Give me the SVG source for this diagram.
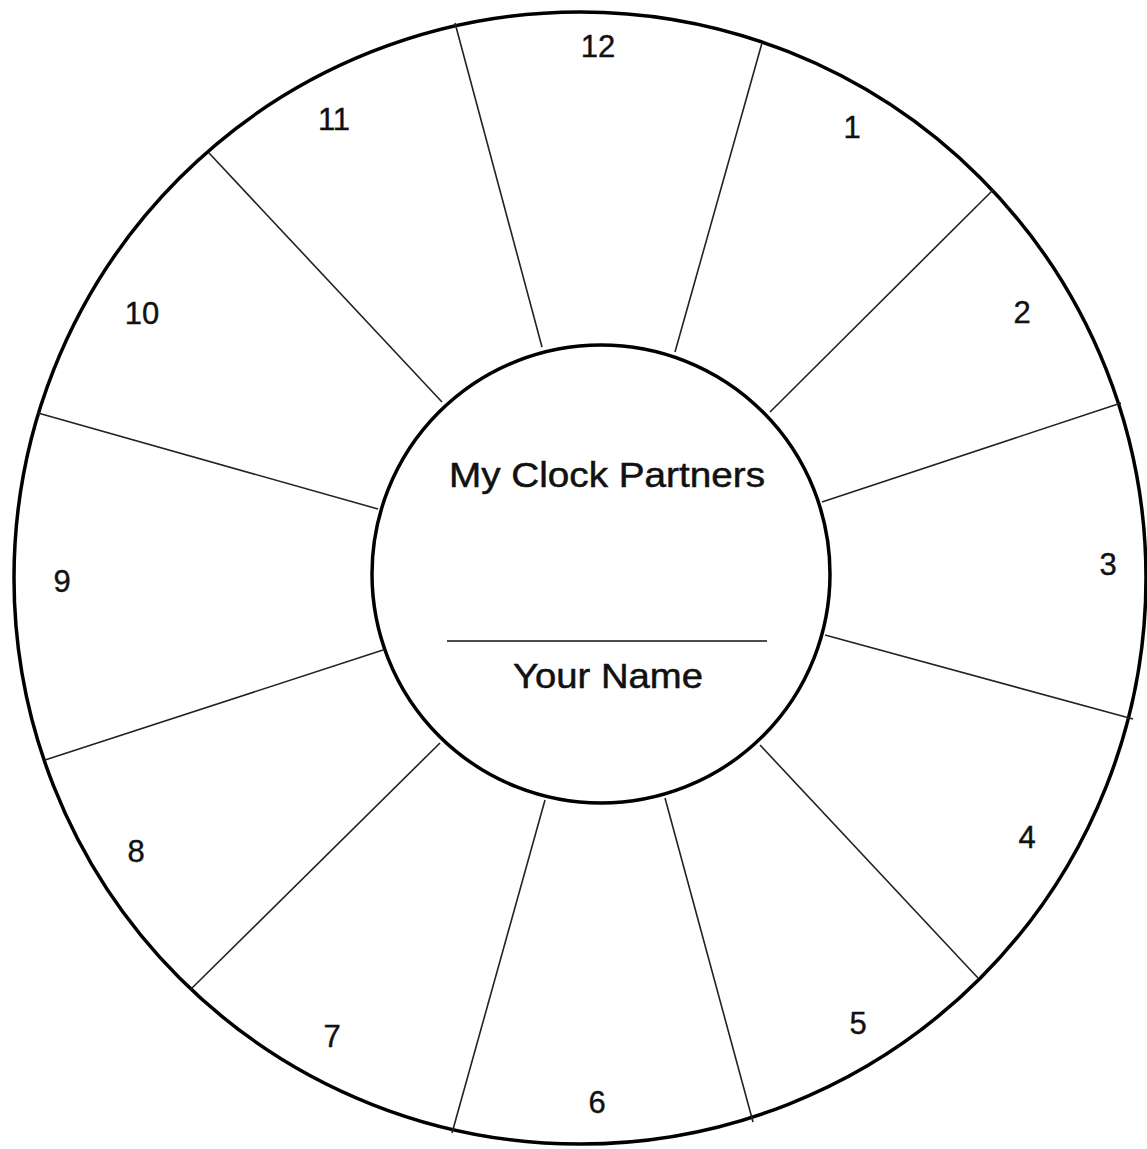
<svg xmlns="http://www.w3.org/2000/svg" width="1147" height="1149" viewBox="0 0 1147 1149">
<style>
.ring{fill:none;stroke:#000;stroke-width:3.5}
.inner{fill:#fff;stroke:#000;stroke-width:3.5}
.spoke{stroke:#222;stroke-width:1.6;fill:none}
.num{font-family:"Liberation Sans",Arial,sans-serif;font-size:31px;fill:#111;stroke:#111;stroke-width:0.4;text-anchor:middle}
.lbl{font-family:"Liberation Sans",Arial,sans-serif;font-size:35px;fill:#111;stroke:#111;stroke-width:0.5;text-anchor:middle}
</style>
<rect width="1147" height="1149" fill="#fff"/>
<g id="outer-ring"><circle class="ring" cx="580" cy="578" r="566"/></g>
<g id="connectors">
<line class="spoke" x1="455" y1="23" x2="542" y2="347"/>
<line class="spoke" x1="762" y1="43" x2="675" y2="352"/>
<line class="spoke" x1="209" y1="153" x2="442" y2="402"/>
<line class="spoke" x1="993" y1="190" x2="770" y2="412"/>
<line class="spoke" x1="38" y1="413" x2="378" y2="509"/>
<line class="spoke" x1="1121" y1="403" x2="822" y2="502"/>
<line class="spoke" x1="45" y1="760" x2="383" y2="650"/>
<line class="spoke" x1="1133" y1="719" x2="825" y2="635"/>
<line class="spoke" x1="190" y1="990" x2="440" y2="743"/>
<line class="spoke" x1="978" y1="978" x2="760" y2="745"/>
<line class="spoke" x1="452" y1="1133" x2="545" y2="800"/>
<line class="spoke" x1="753" y1="1122" x2="665" y2="798"/>
</g>
<g id="center">
<circle class="inner" cx="601" cy="574" r="229"/>
<text class="lbl" x="607" y="487" textLength="316" lengthAdjust="spacingAndGlyphs">My Clock Partners</text>
<line x1="447" y1="641" x2="767" y2="641" stroke="#111" stroke-width="1.6"/>
<text class="lbl" x="608" y="688" textLength="190" lengthAdjust="spacingAndGlyphs">Your Name</text>
</g>
<g id="n12"><text class="num" x="598" y="57">12</text></g>
<g id="n1"><text class="num" x="852" y="138">1</text></g>
<g id="n2"><text class="num" x="1022" y="323">2</text></g>
<g id="n3"><text class="num" x="1108" y="575">3</text></g>
<g id="n4"><text class="num" x="1027" y="848">4</text></g>
<g id="n5"><text class="num" x="858" y="1034">5</text></g>
<g id="n6"><text class="num" x="597" y="1113">6</text></g>
<g id="n7"><text class="num" x="332" y="1047">7</text></g>
<g id="n8"><text class="num" x="136" y="862">8</text></g>
<g id="n9"><text class="num" x="62" y="592">9</text></g>
<g id="n10"><text class="num" x="142" y="324">10</text></g>
<g id="n11"><text class="num" x="334" y="130">11</text></g>
</svg>
